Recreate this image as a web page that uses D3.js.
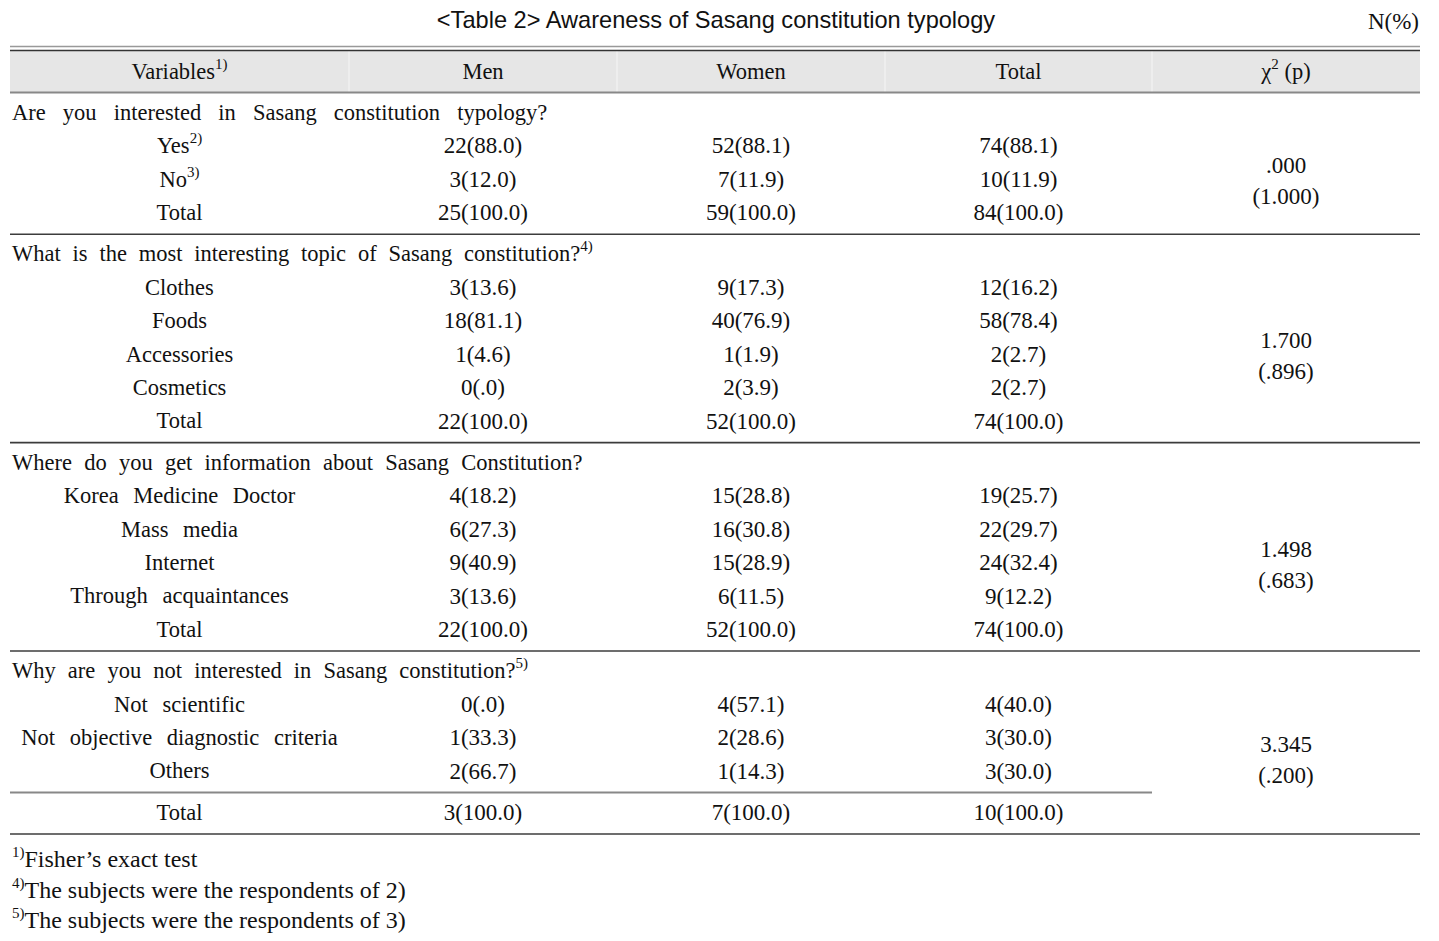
<!DOCTYPE html>
<html>
<head>
<meta charset="utf-8">
<script src="https://cdn.jsdelivr.net/npm/d3@7"></script>
<style>
  html, body { margin: 0; padding: 0; background: #fff; }
  svg { display: block; }
</style>
</head>
<body>
<svg id="chart" width="1439" height="941"></svg>
<script>
// ---------------- DATA ----------------
const title = "<Table 2> Awareness of Sasang constitution typology";
const unitLabel = "N(%)";
const columns = ["Variables", "Men", "Women", "Total", "χ"];
const columnNotes = ["1)", "", "", "", "2"];

const questions = [
  "Are you interested in Sasang constitution typology?",
  "What is the most interesting topic of Sasang constitution?",
  "Where do you get information about Sasang Constitution?",
  "Why are you not interested in Sasang constitution?"
];
const questionNotes = ["", "4)", "", "5)"];

const q1Items = ["Yes", "No", "Total"];
const q1Notes = ["2)", "3)", ""];
const q1Men = [[22, 88.0], [3, 12.0], [25, 100.0]];
const q1Women = [[52, 88.1], [7, 11.9], [59, 100.0]];
const q1Total = [[74, 88.1], [10, 11.9], [84, 100.0]];

const q2Items = ["Clothes", "Foods", "Accessories", "Cosmetics", "Total"];
const q2Men = [[3, 13.6], [18, 81.1], [1, 4.6], [0, 0.0], [22, 100.0]];
const q2Women = [[9, 17.3], [40, 76.9], [1, 1.9], [2, 3.9], [52, 100.0]];
const q2Total = [[12, 16.2], [58, 78.4], [2, 2.7], [2, 2.7], [74, 100.0]];

const q3Items = ["Korea Medicine Doctor", "Mass media", "Internet", "Through acquaintances", "Total"];
const q3Men = [[4, 18.2], [6, 27.3], [9, 40.9], [3, 13.6], [22, 100.0]];
const q3Women = [[15, 28.8], [16, 30.8], [15, 28.9], [6, 11.5], [52, 100.0]];
const q3Total = [[19, 25.7], [22, 29.7], [24, 32.4], [9, 12.2], [74, 100.0]];

const q4Items = ["Not scientific", "Not objective diagnostic criteria", "Others", "Total"];
const q4Men = [[0, 0.0], [1, 33.3], [2, 66.7], [3, 100.0]];
const q4Women = [[4, 57.1], [2, 28.6], [1, 14.3], [7, 100.0]];
const q4Total = [[4, 40.0], [3, 30.0], [3, 30.0], [10, 100.0]];

const chiSquare = [0.000, 1.700, 1.498, 3.345];
const pValues = [1.000, 0.896, 0.683, 0.200];

const footNotes = ["Fisher’s exact test", "The subjects were the respondents of 2)", "The subjects were the respondents of 3)"];
const footNoteMarks = ["1)", "4)", "5)"];

// ---------------- STYLE ----------------
const questionWordSpacing = [11.5, 6.2, 6.6, 6.5];
const itemWordSpacing = 9;

// ---------------- BUILD ----------------
const groups = [
  { items: q1Items, notes: q1Notes, men: q1Men, women: q1Women, total: q1Total },
  { items: q2Items, notes: [], men: q2Men, women: q2Women, total: q2Total },
  { items: q3Items, notes: [], men: q3Men, women: q3Women, total: q3Total },
  { items: q4Items, notes: [], men: q4Men, women: q4Women, total: q4Total }
];

const svg = d3.select("#chart");
const serif = "'Liberation Serif', 'Times New Roman', serif";
const sans = "'Liberation Sans', Arial, sans-serif";

const colEdges = [10, 349, 617, 885, 1152, 1420];
const colCenter = i => (colEdges[i] + colEdges[i + 1]) / 2;

const rowScale = d3.scaleLinear().domain([0, 1]).range([112, 145.4]);
const sepGap = 8;
const yOf = (k, s) => rowScale(k) + s * sepGap;

const fmtPct = p => d3.format(".1f")(p).replace(/^0\./, ".");
const fmtCell = c => `${c[0]}(${fmtPct(c[1])})`;
const fmt3 = v => d3.format(".3f")(v).replace(/^0\./, ".");

const SUP_SIZE = 15, SUP_RAISE = 10;

function addText(x, y, str, opts = {}) {
  const size = opts.size || 22.5;
  const t = svg.append("text")
    .attr("x", x).attr("y", y + 0.35 * size)
    .attr("text-anchor", opts.anchor || "middle")
    .attr("font-family", opts.family || serif)
    .attr("font-size", size)
    .attr("fill", "#111");
  if (opts.ws) t.attr("word-spacing", opts.ws);
  if (opts.pre) {
    t.append("tspan").attr("font-size", SUP_SIZE).attr("dy", -SUP_RAISE).text(opts.pre);
    t.append("tspan").attr("dy", SUP_RAISE).text(str);
  } else {
    t.append("tspan").text(str);
  }
  if (opts.sup) {
    t.append("tspan").attr("font-size", SUP_SIZE).attr("dy", -SUP_RAISE).attr("word-spacing", 0).text(opts.sup);
    if (opts.after) t.append("tspan").attr("dy", SUP_RAISE).text(opts.after);
  }
  return t;
}

function hline(x1, x2, y, color, w) {
  svg.append("line").attr("x1", x1).attr("x2", x2).attr("y1", y).attr("y2", y)
    .attr("stroke", color).attr("stroke-width", w);
}

// Title
addText(716, 20, title, { family: sans, size: 23.6 });
addText(1419, 21, unitLabel, { anchor: "end", size: 23 });

// Header
svg.append("rect").attr("x", colEdges[0]).attr("y", 51).attr("width", colEdges[5] - colEdges[0]).attr("height", 41)
  .attr("fill", "#e6e6e6");
colEdges.slice(1, 5).forEach(x => {
  svg.append("line").attr("x1", x).attr("x2", x).attr("y1", 51).attr("y2", 92)
    .attr("stroke", "#f3f3f3").attr("stroke-width", 1.2);
});
hline(colEdges[0], colEdges[5], 46.5, "#999", 1.5);
hline(colEdges[0], colEdges[5], 50.5, "#333", 1.5);
hline(colEdges[0], colEdges[5], 92.5, "#888", 2);

columns.forEach((c, i) => {
  if (i === 4) addText(colCenter(i), 71, c, { sup: columnNotes[i], after: " (p)" });
  else addText(colCenter(i), 71, c, { sup: columnNotes[i] || null });
});

// Body
let k = 0, s = 0;
groups.forEach((g, gi) => {
  addText(12, yOf(k, s), questions[gi], { anchor: "start", ws: questionWordSpacing[gi], sup: questionNotes[gi] || null });
  k++;
  const itemYs = [];
  g.items.forEach((item, ii) => {
    const isLastGroupTotal = gi === groups.length - 1 && ii === g.items.length - 1;
    if (isLastGroupTotal) {
      hline(colEdges[0], colEdges[4], yOf(k - 1, s) + 22, "#888", 2);
      s++;
    }
    const y = yOf(k, s);
    itemYs.push(y);
    addText(colCenter(0), y, item, { ws: itemWordSpacing, sup: g.notes[ii] || null });
    addText(colCenter(1), y, fmtCell(g.men[ii]), { size: 23 });
    addText(colCenter(2), y, fmtCell(g.women[ii]), { size: 23 });
    addText(colCenter(3), y, fmtCell(g.total[ii]), { size: 23 });
    k++;
  });
  const mid = (itemYs[0] + itemYs[itemYs.length - 1]) / 2;
  addText(colCenter(4), mid - 13.5, fmt3(chiSquare[gi]), { size: 23 });
  addText(colCenter(4), mid + 17.5, `(${fmt3(pValues[gi])})`, { size: 23 });
  hline(colEdges[0], colEdges[5], itemYs[itemYs.length - 1] + 22, "#3c3c3c", 1.6);
  s++;
});

// Footnotes
const footY = d3.scaleLinear().domain([0, 1]).range([859, 889.5]);
footNotes.forEach((f, i) => {
  addText(12, footY(i), f, { anchor: "start", size: 24, pre: footNoteMarks[i] });
});
</script>
</body>
</html>
